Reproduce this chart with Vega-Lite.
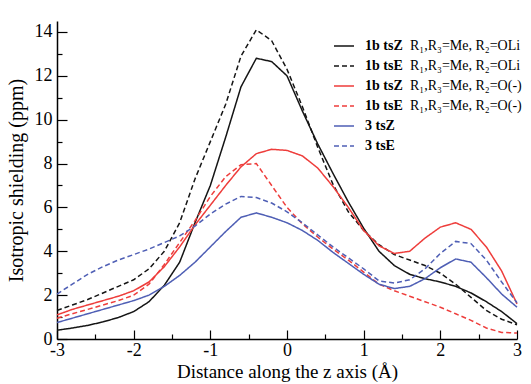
{
  "$schema": "https://vega.github.io/schema/vega-lite/v6.json",
  "width": 460,
  "height": 318,
  "autosize": {"type": "none"},
  "padding": {"left": 57, "top": 21, "right": 14, "bottom": 45},
  "background": "white",
  "config": {
    "font": "Liberation Serif",
    "view": {"stroke": null},
    "style": {
      "guide-label": {"font": "Liberation Serif", "fill": "black"},
      "guide-title": {"font": "Liberation Serif", "fill": "black", "fontWeight": "normal"}
    },
    "axis": {
      "grid": false,
      "domainColor": "black",
      "domainWidth": 1.5,
      "tickColor": "black",
      "tickWidth": 1.2,
      "labelColor": "black",
      "titleColor": "black",
      "labelFont": "Liberation Serif",
      "titleFont": "Liberation Serif",
      "titleFontWeight": "normal"
    },
    "legend": {"labelFont": "Liberation Serif", "labelColor": "black"}
  },
  "data": {
    "values": [
      {"x": -3.0, "a": 0.4, "b": 1.3, "c": 1.1, "d": 0.95, "e": 0.75, "f": 2.05},
      {"x": -2.8, "a": 0.5, "b": 1.55, "c": 1.35, "d": 1.15, "e": 0.95, "f": 2.5},
      {"x": -2.6, "a": 0.62, "b": 1.8, "c": 1.55, "d": 1.35, "e": 1.15, "f": 2.95},
      {"x": -2.4, "a": 0.78, "b": 2.1, "c": 1.75, "d": 1.55, "e": 1.35, "f": 3.3},
      {"x": -2.2, "a": 0.98, "b": 2.4, "c": 1.95, "d": 1.75, "e": 1.55, "f": 3.6},
      {"x": -2.0, "a": 1.25, "b": 2.7, "c": 2.2, "d": 2.0, "e": 1.75, "f": 3.85},
      {"x": -1.8, "a": 1.7, "b": 3.2, "c": 2.6, "d": 2.5, "e": 2.0, "f": 4.1},
      {"x": -1.6, "a": 2.45, "b": 4.0, "c": 3.3, "d": 3.4, "e": 2.4, "f": 4.4},
      {"x": -1.4, "a": 3.5, "b": 5.3, "c": 4.2, "d": 4.4, "e": 2.9, "f": 4.7},
      {"x": -1.2, "a": 5.3, "b": 7.3, "c": 5.2, "d": 5.4, "e": 3.5, "f": 5.15},
      {"x": -1.0, "a": 7.0, "b": 9.0, "c": 6.1, "d": 6.5, "e": 4.2, "f": 5.7},
      {"x": -0.8, "a": 9.2, "b": 10.7, "c": 7.0, "d": 7.4, "e": 4.9, "f": 6.15},
      {"x": -0.6, "a": 11.5, "b": 12.9, "c": 7.85, "d": 7.95, "e": 5.55, "f": 6.5},
      {"x": -0.4, "a": 12.8, "b": 14.1, "c": 8.45, "d": 8.0, "e": 5.75, "f": 6.45},
      {"x": -0.2, "a": 12.65, "b": 13.6, "c": 8.65, "d": 7.0, "e": 5.55, "f": 6.2},
      {"x": 0.0, "a": 12.0, "b": 12.3, "c": 8.6, "d": 6.0, "e": 5.3, "f": 5.8},
      {"x": 0.2, "a": 10.4, "b": 10.6, "c": 8.35, "d": 5.25, "e": 4.95, "f": 5.3},
      {"x": 0.4, "a": 8.9, "b": 8.75, "c": 7.8, "d": 4.65, "e": 4.5, "f": 4.75},
      {"x": 0.6, "a": 7.55, "b": 7.05, "c": 6.95, "d": 4.1, "e": 3.95, "f": 4.2},
      {"x": 0.8, "a": 6.25, "b": 5.8, "c": 6.0, "d": 3.6, "e": 3.45, "f": 3.7},
      {"x": 1.0, "a": 5.05, "b": 4.95, "c": 4.95, "d": 3.05, "e": 2.95, "f": 3.2},
      {"x": 1.2, "a": 4.0, "b": 4.3, "c": 4.25, "d": 2.5, "e": 2.5, "f": 2.65},
      {"x": 1.4, "a": 3.35, "b": 3.85, "c": 3.9, "d": 2.2, "e": 2.3, "f": 2.55},
      {"x": 1.6, "a": 2.95, "b": 3.6, "c": 4.0, "d": 1.95, "e": 2.4, "f": 2.7},
      {"x": 1.8, "a": 2.75, "b": 3.35, "c": 4.6, "d": 1.7, "e": 2.75, "f": 3.2},
      {"x": 2.0, "a": 2.6, "b": 3.0, "c": 5.1, "d": 1.45, "e": 3.25, "f": 3.9},
      {"x": 2.2, "a": 2.4, "b": 2.5, "c": 5.3, "d": 1.15, "e": 3.65, "f": 4.45},
      {"x": 2.4, "a": 2.1, "b": 1.9, "c": 5.0, "d": 0.85, "e": 3.5, "f": 4.35},
      {"x": 2.6, "a": 1.7, "b": 1.3, "c": 4.2, "d": 0.5, "e": 2.8, "f": 3.6},
      {"x": 2.8, "a": 1.25, "b": 0.9, "c": 3.1, "d": 0.3, "e": 2.05, "f": 2.6},
      {"x": 3.0, "a": 0.7, "b": 0.65, "c": 1.6, "d": 0.27, "e": 1.45, "f": 1.65}
    ]
  },
  "transform": [{"fold": ["a", "b", "c", "d", "e", "f"], "as": ["key", "y"]}],
  "encoding": {
    "x": {
      "field": "x",
      "type": "quantitative",
      "scale": {"domain": [-3, 3], "nice": false, "zero": false},
      "axis": {
        "values": [-3, -2.5, -2, -1.5, -1, -0.5, 0, 0.5, 1, 1.5, 2, 2.5, 3],
        "labelExpr": "datum.value % 1 == 0 ? '' + datum.value : ''",
        "labelFont": "Liberation Serif",
        "labelFontSize": 18,
        "labelPadding": 11,
        "labelFlush": false,
        "tickSize": {"condition": {"test": "datum.value % 1 != 0", "value": -5}, "value": -9},
        "title": "Distance along the z axis (Å)",
        "titleFont": "Liberation Serif",
        "titleFontSize": 19,
        "titlePadding": 3
      }
    },
    "y": {
      "field": "y",
      "type": "quantitative",
      "scale": {"domain": [0, 14.5], "nice": false},
      "axis": {
        "values": [0, 1, 2, 3, 4, 5, 6, 7, 8, 9, 10, 11, 12, 13, 14],
        "labelExpr": "datum.value % 2 == 0 ? '' + datum.value : ''",
        "labelFont": "Liberation Serif",
        "labelFontSize": 18,
        "labelPadding": 15,
        "labelFlush": false,
        "tickSize": {"condition": {"test": "datum.value % 2 != 0", "value": -5}, "value": -10},
        "title": "Isotropic shielding (ppm)",
        "titleFont": "Liberation Serif",
        "titleFontSize": 20,
        "titlePadding": 8
      }
    }
  },
  "layer": [
    {
      "mark": {"type": "line", "strokeWidth": 1.5},
      "encoding": {
        "color": {
          "field": "key",
          "type": "nominal",
          "scale": {
            "domain": ["a", "b", "c", "d", "e", "f"],
            "range": ["#151515", "#151515", "#ee3d3b", "#ee3d3b", "#4f5fb5", "#4f5fb5"]
          },
          "legend": {
            "orient": "none",
            "legendX": 276,
            "legendY": 14,
            "title": null,
            "symbolType": "stroke",
            "symbolSize": 400,
            "symbolStrokeWidth": 1.5,
            "labelFont": "Liberation Serif",
            "labelFontSize": 14,
            "labelFontWeight": "bold",
            "labelOffset": 10,
            "rowPadding": 2,
            "labelExpr": "datum.value == 'a' || datum.value == 'c' ? '1b tsZ' : datum.value == 'b' || datum.value == 'd' ? '1b tsE' : datum.value == 'e' ? '3 tsZ' : '3 tsE'"
          }
        },
        "strokeDash": {
          "field": "key",
          "type": "nominal",
          "scale": {
            "domain": ["a", "b", "c", "d", "e", "f"],
            "range": [[1, 0], [5, 3], [1, 0], [5, 3], [1, 0], [5, 3]]
          },
          "legend": {
            "orient": "none",
            "legendX": 276,
            "legendY": 14,
            "title": null,
            "symbolType": "stroke",
            "symbolSize": 400,
            "symbolStrokeWidth": 1.5,
            "labelFont": "Liberation Serif",
            "labelFontSize": 14,
            "labelFontWeight": "bold",
            "labelOffset": 10,
            "rowPadding": 2,
            "labelExpr": "datum.value == 'a' || datum.value == 'c' ? '1b tsZ' : datum.value == 'b' || datum.value == 'd' ? '1b tsE' : datum.value == 'e' ? '3 tsZ' : '3 tsE'"
          }
        }
      }
    },
    {
      "transform": [{"filter": {"field": "key", "oneOf": ["a", "b", "c", "d"]}}],
      "mark": {"type": "point", "opacity": 0},
      "encoding": {
        "shape": {
          "field": "key",
          "type": "nominal",
          "scale": {"range": ["stroke", "stroke", "stroke", "stroke"]},
          "legend": {
            "orient": "none",
            "legendX": 331,
            "legendY": 14,
            "title": null,
            "symbolSize": 400,
            "symbolStrokeWidth": 1.5,
            "symbolOpacity": 0,
            "labelFont": "Liberation Serif",
            "labelFontSize": 14,
            "labelFontWeight": "normal",
            "labelOffset": 0,
            "rowPadding": 2,
            "labelExpr": "datum.value == 'a' || datum.value == 'b' ? 'R₁,R₃=Me, R₂=OLi' : 'R₁,R₃=Me, R₂=O(-)'"
          }
        }
      }
    }
  ]
}
